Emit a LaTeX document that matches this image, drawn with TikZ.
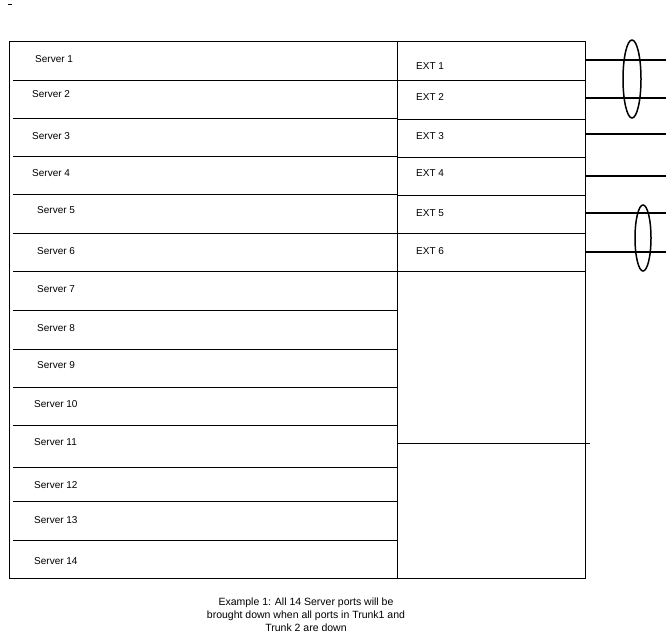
\documentclass[tikz,border=0pt]{standalone}
\usepackage{fontspec}
\setmainfont{Liberation Sans}
\begin{document}
\begin{tikzpicture}[x=1pt,y=-1pt,
  lbl/.style={anchor=west,inner sep=0pt,font=\fontsize{10}{12}\selectfont},
  thin/.style={line width=0.6pt},
  trunk/.style={line width=2.2pt}]
\useasboundingbox (0,0) rectangle (666,637);
\draw[thin] (9,41) rectangle (585,578);
\draw[thin] (397,41) -- (397,578);
\foreach \y in {80,118,156,194,233,271,310,349,387,425,467,501,540}
  \draw[thin] (13,\y) -- (397,\y);
\foreach \y in {80,119,157,195,233,271}
  \draw[thin] (397,\y) -- (585,\y);
\draw[thin] (397,443) -- (590,443);
\foreach \n/\x/\y in {1/35/59,2/32/94,3/32/136,4/32/173,5/37/210,6/37/251,7/37/289,8/37/328,9/37/365,10/34/404,11/34/442,12/34/485,13/34/520,14/34/561}
  \node[lbl] (s\n) at (\x,\y) {Server \n};
\foreach \n/\y in {1/66,2/97,3/136,4/173,5/213,6/251}
  \node[lbl] (e\n) at (416,\y) {EXT \n};
\foreach \y in {60,98,134,176,213,252}
  \draw[trunk] (585,\y) -- (666,\y);
\draw[line width=1.5pt] (632,79) ellipse [x radius=9,y radius=39];
\draw[line width=1.5pt] (643,238) ellipse [x radius=8,y radius=33];
\draw[thin] (8,4) -- (12,4);
\node[align=center,inner sep=0pt,font=\fontsize{10.5}{13}\selectfont] (cap) at (306,615)
 {Example 1: All 14 Server ports will be\\brought down when all ports in Trunk1 and\\Trunk 2 are down};
\end{tikzpicture}
\end{document}
